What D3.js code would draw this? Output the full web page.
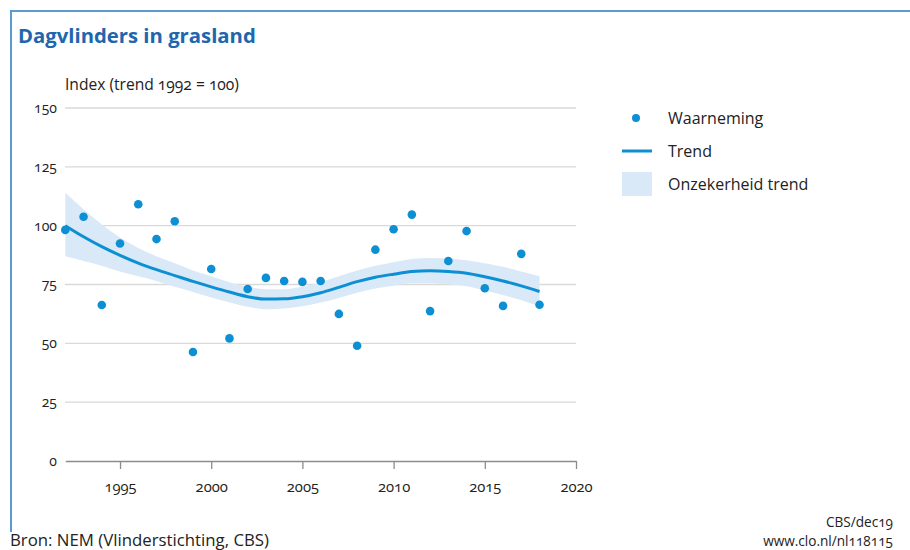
<!DOCTYPE html>
<html><head><meta charset="utf-8">
<script src="https://cdn.jsdelivr.net/npm/d3@7"></script>
<style>
html,body{margin:0;padding:0;background:#fff;}
svg{display:block;font-family:"Open Sans",sans-serif;font-variant-numeric:oldstyle-nums;font-feature-settings:"onum" 1;}
</style></head><body>
<svg id="c" width="910" height="550"></svg>
<script>
const years = d3.range(1992, 2019);
const observed = [98.2,103.8,66.3,92.4,109.1,94.3,101.9,46.3,81.6,52.1,73.1,77.8,76.5,76.1,76.5,62.5,49.0,89.8,98.5,104.7,63.7,85.0,97.7,73.4,65.9,88.0,66.4];
const trend = [100,95.3,91.1,87.4,84.1,81.3,78.8,76.3,74.0,71.8,69.8,68.8,68.9,69.8,71.5,73.8,76.2,78.1,79.4,80.5,80.8,80.5,79.8,78.3,76.5,74.4,72.0];
const trendHigh = [114,107,100.5,95,90.5,87,84,81,78.5,76,74,73,73,74,76,78.5,81,83,84.5,85.8,86.3,86,85.3,84,82.5,80.5,78.5];
const trendLow = [87,85,83,80.5,78.5,76.5,74,71.8,69.5,67.5,65.5,64.5,64.8,65.8,67.3,69.3,71.5,73.3,74.5,75.5,75.5,75,74.3,72.5,70.5,68.3,65.8];
const yTicks = [0,25,50,75,100,125,150];
const xTicks = [1995,2000,2005,2010,2015,2020];
const legendLabels = ["Waarneming","Trend","Onzekerheid trend"];

const svg = d3.select("#c");
const blue = "#0d8fd3", band = "#d9e9f8", text = "#222";

// frame
svg.append("line").attr("x1",10).attr("x2",910).attr("y1",11).attr("y2",11).attr("stroke","#5b9bd5").attr("stroke-width",2);
svg.append("line").attr("x1",11).attr("x2",11).attr("y1",10).attr("y2",532).attr("stroke","#5b9bd5").attr("stroke-width",2);

svg.append("text").attr("x",18).attr("y",43).text("Dagvlinders in grasland")
  .attr("font-size",20.3).attr("font-weight",700).attr("fill","#2066ad");

const x = d3.scaleLinear().domain([1992,2020]).range([65.3,576]);
const y = d3.scaleLinear().domain([0,150]).range([461,108]);

const yAxis = d3.axisLeft(y).tickValues(yTicks).tickSize(0).tickPadding(8);
const gy = svg.append("g").attr("transform","translate(65,0)").call(yAxis);
gy.select(".domain").remove();
gy.selectAll("text").attr("font-size",14).attr("fill",text).attr("font-family","Open Sans");
svg.append("g").selectAll("line").data(yTicks.filter(d=>d>0)).join("line")
  .attr("x1",65).attr("x2",576).attr("y1",d=>y(d)).attr("y2",d=>y(d))
  .attr("stroke","#d9d9d9").attr("stroke-width",1.3);

const xAxis = d3.axisBottom(x).tickValues(xTicks).tickFormat(d3.format("d")).tickSize(8).tickSizeOuter(0).tickPadding(12);
const gx = svg.append("g").attr("transform",`translate(0,${y(0)})`).call(xAxis);
gx.select(".domain").attr("stroke","#8c8c8c").attr("stroke-width",1.3);
gx.selectAll(".tick line").attr("stroke","#8c8c8c").attr("stroke-width",1.3);
gx.selectAll("text").attr("font-size",14.8).attr("fill",text).attr("font-family","Open Sans");

svg.append("text").attr("x",65).attr("y",90).text("Index (trend 1992 = 100)")
  .attr("font-size",15.6).attr("fill",text);

const area = d3.area().x((d,i)=>x(years[i])).y0((d,i)=>y(trendLow[i])).y1((d,i)=>y(trendHigh[i])).curve(d3.curveMonotoneX);
svg.append("path").datum(trend).attr("d",area).attr("fill",band);
const line = d3.line().x((d,i)=>x(years[i])).y(d=>y(d)).curve(d3.curveMonotoneX);
svg.append("path").datum(trend).attr("d",line).attr("fill","none").attr("stroke",blue).attr("stroke-width",3);

svg.append("g").selectAll("circle").data(observed).join("circle")
  .attr("cx",(d,i)=>x(years[i])).attr("cy",d=>y(d)).attr("r",4.3).attr("fill",blue);

const lg = svg.append("g");
lg.append("circle").attr("cx",636).attr("cy",118).attr("r",4).attr("fill",blue);
lg.append("line").attr("x1",622).attr("x2",652).attr("y1",151).attr("y2",151).attr("stroke",blue).attr("stroke-width",3);
lg.append("rect").attr("x",622).attr("y",172).attr("width",30).attr("height",24).attr("fill",band);
lg.selectAll("text").data(legendLabels).join("text")
  .attr("x",668).attr("y",(d,i)=>[118,151,184][i]).attr("dy","0.35em")
  .attr("font-size",16).attr("fill",text).text(d=>d);

svg.append("text").attr("x",10).attr("y",546).text("Bron: NEM (Vlinderstichting, CBS)").attr("font-size",16.8).attr("fill",text);
svg.append("text").attr("x",893).attr("y",527).attr("text-anchor","end").text("CBS/dec19").attr("font-size",13.6).attr("fill",text);
svg.append("text").attr("x",893).attr("y",546).attr("text-anchor","end").text("www.clo.nl/nl118115").attr("font-size",13.6).attr("fill",text);
</script>
</body></html>
